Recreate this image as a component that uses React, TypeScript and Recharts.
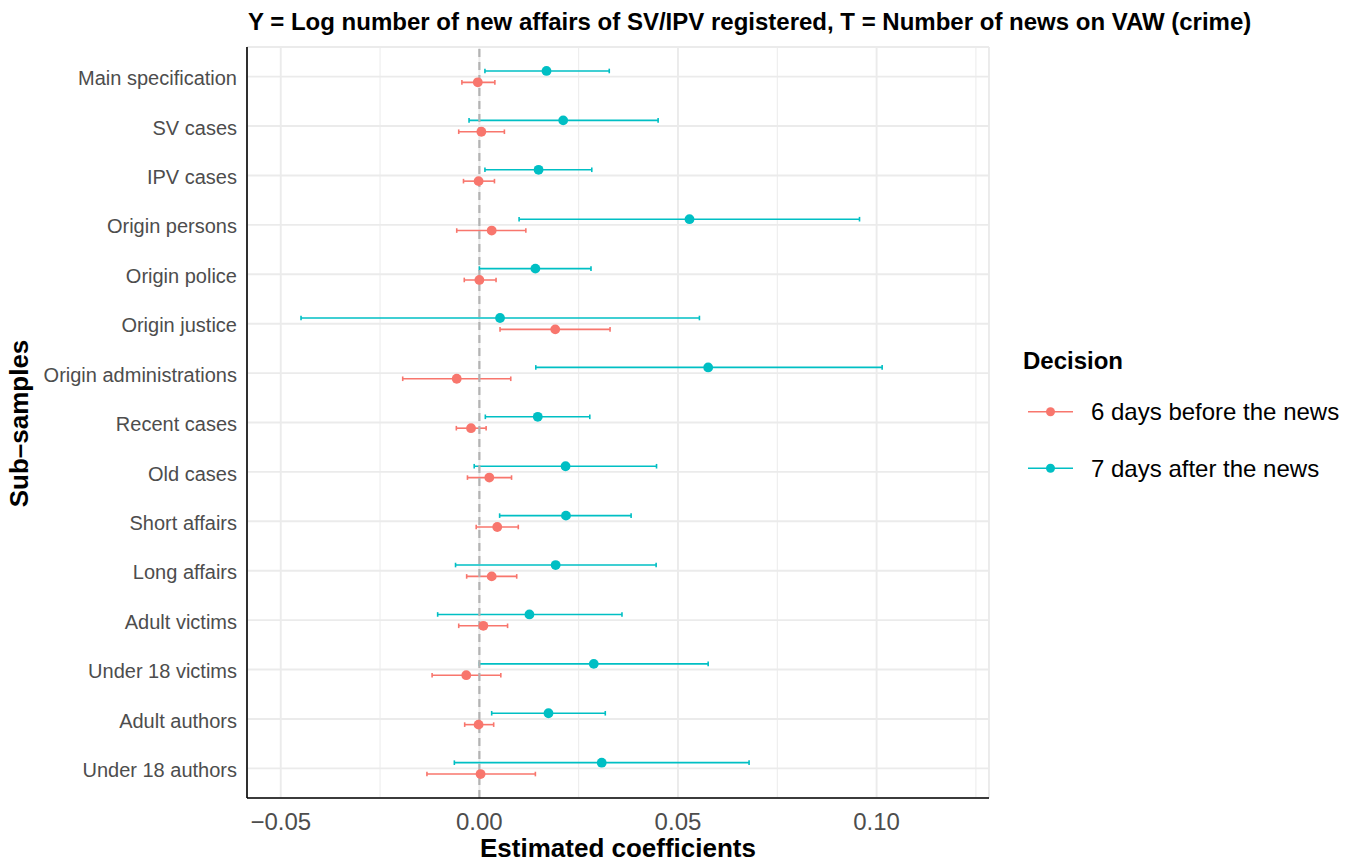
import React from 'react';
import {
  ScatterChart,
  Scatter,
  XAxis,
  YAxis,
  CartesianGrid,
  ErrorBar,
  ReferenceLine,
} from 'recharts';

const categories = [
  'Main specification',
  'SV cases',
  'IPV cases',
  'Origin persons',
  'Origin police',
  'Origin justice',
  'Origin administrations',
  'Recent cases',
  'Old cases',
  'Short affairs',
  'Long affairs',
  'Adult victims',
  'Under 18 victims',
  'Adult authors',
  'Under 18 authors',
];

// 7 days after the news (teal)
const afterEst = [0.0169, 0.0211, 0.0149, 0.0529, 0.0141, 0.0052, 0.0576, 0.0147, 0.0217, 0.0218, 0.0192, 0.0126, 0.0288, 0.0174, 0.0308];
const afterLow = [0.0014, -0.0026, 0.0014, 0.01, 0.0, -0.0449, 0.0142, 0.0015, -0.0013, 0.0051, -0.006, -0.0105, 0.0, 0.0031, -0.0063];
const afterHigh = [0.0327, 0.045, 0.0283, 0.0957, 0.0281, 0.0554, 0.1014, 0.0278, 0.0446, 0.0382, 0.0445, 0.0359, 0.0576, 0.0317, 0.0679];

// 6 days before the news (red)
const beforeEst = [-0.0004, 0.0005, -0.0002, 0.0031, 0.0, 0.0191, -0.0057, -0.0021, 0.0025, 0.0045, 0.0031, 0.001, -0.0033, -0.0002, 0.0003];
const beforeLow = [-0.0044, -0.0052, -0.004, -0.0057, -0.0038, 0.0052, -0.0193, -0.0058, -0.003, -0.0008, -0.0032, -0.0052, -0.0119, -0.0037, -0.0132];
const beforeHigh = [0.0039, 0.0063, 0.0038, 0.0117, 0.0042, 0.0329, 0.0079, 0.0017, 0.0081, 0.0098, 0.0094, 0.0071, 0.0054, 0.0036, 0.0141];

const xTicks = [-0.05, 0, 0.05, 0.1];
const xMinorTicks = [-0.025, 0.025, 0.075, 0.125];
const seriesNames = ['6 days before the news', '7 days after the news'];

const RED = '#F8766D';
const TEAL = '#00BFC4';
const FONT = '"Liberation Sans", Arial, Helvetica, sans-serif';
const DODGE = 0.115;

const yTicks = categories.map((_, i) => i);

const beforeData = categories.map((c, i) => ({
  name: c,
  x: beforeEst[i],
  y: i + DODGE,
  err: [beforeEst[i] - beforeLow[i], beforeHigh[i] - beforeEst[i]],
}));
const afterData = categories.map((c, i) => ({
  name: c,
  x: afterEst[i],
  y: i - DODGE,
  err: [afterEst[i] - afterLow[i], afterHigh[i] - afterEst[i]],
}));

const fmtX = (v: number) => {
  const s = Math.abs(v).toFixed(2);
  return v < 0 ? '\u2212' + s : s;
};

const Dot = (color: string) => (props: any) => (
  <circle cx={props.cx} cy={props.cy} r={4.9} fill={color} />
);

const LegendBox = () => (
  <svg
    width={341}
    height={150}
    style={{ position: 'absolute', left: 1015, top: 340, display: 'block', fontFamily: FONT }}
  >
    <text x={8} y={28.5} fontSize={24} fontWeight="bold" fill="#000">
      Decision
    </text>
    {[RED, TEAL].map((col, k) => {
      const cy = k === 0 ? 71.7 : 128.3;
      return (
        <g key={k}>
          <line x1={13} x2={58} y1={cy} y2={cy} stroke={col} strokeWidth={1.6} />
          <circle cx={35.5} cy={cy} r={4.5} fill={col} />
          <text x={76} y={cy + 8.5} fontSize={24} fill="#000">
            {seriesNames[k]}
          </text>
        </g>
      );
    })}
  </svg>
);

const YLabel = (props: any) => {
  const vb = props.viewBox || { x: 0, y: 47, width: 247, height: 751 };
  const cx = 28;
  const cy = vb.y + vb.height / 2 + 1;
  return (
    <text
      x={cx}
      y={cy}
      transform={`rotate(-90, ${cx}, ${cy})`}
      textAnchor="middle"
      fontSize={26}
      fontWeight="bold"
      fill="#000"
      fontFamily={FONT}
    >
      Sub–samples
    </text>
  );
};

export default function App() {
  return (
    <div style={{ position: 'absolute', left: 0, top: 0, width: 1356, height: 864, background: '#fff', fontFamily: FONT }}>
      <div
        style={{
          position: 'absolute',
          left: 248,
          top: 8,
          fontSize: 24,
          fontWeight: 'bold',
          color: '#000',
          whiteSpace: 'nowrap',
          fontFamily: FONT,
        }}
      >
        Y = Log number of new affairs of SV/IPV registered, T = Number of news on VAW (crime)
      </div>
      <div style={{ position: 'absolute', left: 0, top: 0 }}>
        <ScatterChart
          width={1356}
          height={864}
          margin={{ top: 47, right: 367, bottom: 0, left: 0 }}
        >
          <CartesianGrid stroke="#ebebeb" strokeWidth={1.9} />
          {xMinorTicks.map((v) => (
            <ReferenceLine key={v} x={v} stroke="#ebebeb" strokeWidth={1} />
          ))}
          <XAxis
            type="number"
            dataKey="x"
            domain={[-0.0585, 0.1283]}
            allowDataOverflow
            ticks={xTicks}
            interval={0}
            tickFormatter={fmtX}
            tick={{ fontSize: 24, fill: '#4d4d4d', fontFamily: FONT }}
            tickLine={false}
            tickSize={6}
            tickMargin={9}
            axisLine={{ stroke: '#000', strokeWidth: 1.6 }}
            height={66}
            label={{
              value: 'Estimated coefficients',
              position: 'insideBottom',
              offset: 7,
              fontSize: 26,
              fontWeight: 'bold',
              fill: '#000',
              fontFamily: FONT,
            }}
          />
          <YAxis
            type="number"
            dataKey="y"
            domain={[-0.6, 14.6]}
            reversed
            allowDataOverflow
            ticks={yTicks}
            interval={0}
            tickFormatter={(i: number) => categories[i] ?? ''}
            tick={{ fontSize: 20, fill: '#4d4d4d', fontFamily: FONT, dy: 1.5 }}
            tickLine={false}
            tickSize={6}
            tickMargin={4}
            axisLine={{ stroke: '#000', strokeWidth: 1.6 }}
            width={247}
            label={<YLabel />}
          />
          <Scatter name={seriesNames[0]} data={beforeData} fill={RED} shape={Dot(RED)} isAnimationActive={false}>
            <ErrorBar dataKey="err" direction="x" width={2.3} stroke={RED} strokeWidth={1.6} />
          </Scatter>
          <Scatter name={seriesNames[1]} data={afterData} fill={TEAL} shape={Dot(TEAL)} isAnimationActive={false}>
            <ErrorBar dataKey="err" direction="x" width={2.3} stroke={TEAL} strokeWidth={1.6} />
          </Scatter>
          <ReferenceLine x={0} stroke="#b3b3b3" strokeWidth={2.2} strokeDasharray="8 5" />
        </ScatterChart>
      </div>
      <LegendBox />
    </div>
  );
}
